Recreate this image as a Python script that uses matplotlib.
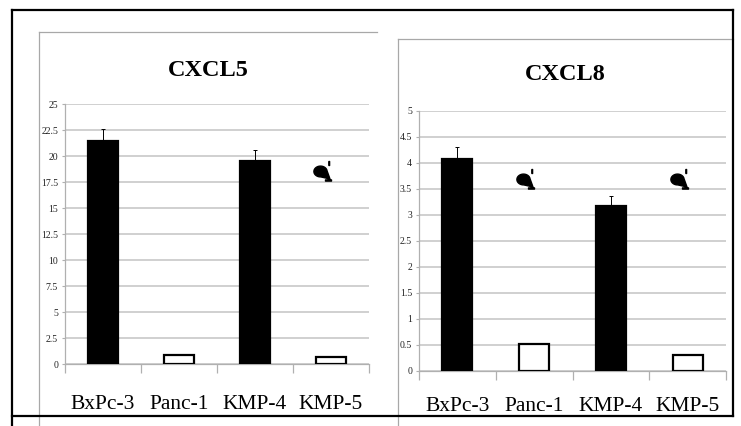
import numpy as np
import matplotlib
matplotlib.use("Agg")
import matplotlib.pyplot as plt
from matplotlib.lines import Line2D
from matplotlib.path import Path

plt.rcParams['font.family'] = ['Liberation Serif', 'DejaVu Serif']

# data
cells = ["BxPc-3", "Panc-1", "KMP-4", "KMP-5"]
cxcl5 = [21.4, 0.87, 19.55, 0.64]
cxcl5_err = [1.2, 0.0, 1.05, 0.0]
cxcl8 = [4.08, 0.51, 3.18, 0.31]
cxcl8_err = [0.23, 0.02, 0.19, 0.0]
bar_colors = ["black", "white", "black", "white"]
# odd blob marks (category index, value)
cxcl5_marks = ([3], [17.8])
cxcl8_marks = ([1, 3], [3.54, 3.54])

W, H = 741, 426


def px(x, y):
    return x / W, 1 - y / H


# teardrop mark built around an anchor (pixel offsets)
def drop_marker():
    cx, cy, r = -11.0, 8.0, 6.0
    tip = np.array([-1.5, 0.5])
    ang = np.linspace(0, 2 * np.pi, 72, endpoint=False)
    d = tip - np.array([cx, cy])
    a0 = np.arctan2(d[1], d[0])
    # start the circle just after the tip direction so the gap is at the end
    ang = a0 + 0.8 + ang * (2 * np.pi - 1.6) / (2 * np.pi)
    pts = np.column_stack([cx + 1.1 * r * np.cos(ang), cy + 0.9 * r * np.sin(ang)])
    blob = np.vstack([pts, tip, pts[:1]])
    verts = [blob]
    codes = [[Path.MOVETO] + [Path.LINETO] * (len(blob) - 2) + [Path.CLOSEPOLY]]
    tick = np.array([[-2.6, 14], [-1.9, 14], [-1.9, 18], [-2.6, 18], [-2.6, 14]])
    dash = np.array([[-6.0, -1.6], [0.0, -1.6], [0.0, -0.4], [-6.0, -0.4], [-6.0, -1.6]])
    for v in (tick, dash):
        verts.append(v)
        codes.append([Path.MOVETO, Path.LINETO, Path.LINETO, Path.LINETO, Path.CLOSEPOLY])
    p = Path(np.vstack(verts), np.concatenate(codes))
    m = np.abs(np.vstack(verts)).max()
    return p, 2 * m * 0.72


def panel(ax, vals, errs, ymax, step, marks):
    x = np.arange(len(cells))
    ax.bar(x, vals, width=0.39, color=bar_colors, edgecolor="black",
           linewidth=1.6, zorder=3)
    ax.errorbar(x, vals, yerr=[np.zeros(len(errs)), errs], fmt="none",
                ecolor="black", elinewidth=0.7, capsize=1.5, capthick=0.7, zorder=4)
    mk, ms = drop_marker()
    ax.plot(marks[0], marks[1], linestyle="none", marker=mk, markersize=ms,
            color="black", zorder=5, clip_on=False)
    ax.set_xlim(-0.5, len(cells) - 0.5)
    ax.set_ylim(0, ymax)
    yt = np.arange(0, ymax + step / 2, step)
    ax.set_yticks(yt)
    ax.set_yticklabels([("%g" % v) for v in yt], fontsize=7, color="#222222")
    ax.yaxis.grid(True, color="#c4c4c4", linewidth=1.1, zorder=0)
    ax.set_axisbelow(True)
    for s in ("top", "right"):
        ax.spines[s].set_visible(False)
    for s in ("left", "bottom"):
        ax.spines[s].set_color("#b0b0b0")
        ax.spines[s].set_linewidth(0.9)
    ax.tick_params(axis="y", length=2.5, color="#b0b0b0", pad=2.5)
    ax.set_xticks(x)
    ax.set_xticklabels(cells, fontsize=15.5)
    ax.set_xticks(np.arange(-0.5, len(cells)), minor=True)
    ax.tick_params(axis="x", which="major", length=0)
    ax.tick_params(axis="x", which="minor", length=6.5, color="#b0b0b0", width=0.9)


fig = plt.figure(figsize=(W / 100, H / 100), dpi=100)

l, b = px(65, 364)
ax1 = fig.add_axes([l, b, (369 - 65) / W, 260 / H])
panel(ax1, cxcl5, cxcl5_err, 25, 2.5, cxcl5_marks)
ax1.tick_params(axis="x", which="major", pad=22)

l, b = px(419, 371)
ax2 = fig.add_axes([l, b, (726 - 419) / W, 260 / H])
panel(ax2, cxcl8, cxcl8_err, 5, 0.5, cxcl8_marks)
ax2.tick_params(axis="x", which="major", pad=19)

# titles centred on their panels
fig.text(*px(208, 70), "CXCL5", ha="center", va="center", fontsize=17.5, fontweight="bold")
fig.text(*px(565, 75), "CXCL8", ha="center", va="center", fontsize=17.5, fontweight="bold")

# grey panel borders
grey = "#a8a8a8"
for xs, ys in [((39, 39), (32, 426)), ((39, 377), (32, 32)),
               ((398, 398), (39, 426)), ((398, 733), (39, 39))]:
    p0, p1 = px(xs[0], ys[0]), px(xs[1], ys[1])
    fig.add_artist(Line2D([p0[0], p1[0]], [p0[1], p1[1]], color=grey, lw=0.9, zorder=1))

# black outer frame drawn over everything
for xs, ys in [((12, 12), (10, 426)), ((12, 733), (10, 10)),
               ((733, 733), (10, 416)), ((12, 733), (416, 416))]:
    p0, p1 = px(xs[0], ys[0]), px(xs[1], ys[1])
    fig.add_artist(Line2D([p0[0], p1[0]], [p0[1], p1[1]], color="black", lw=1.6, zorder=20))

fig.savefig("out.png", dpi=100)
